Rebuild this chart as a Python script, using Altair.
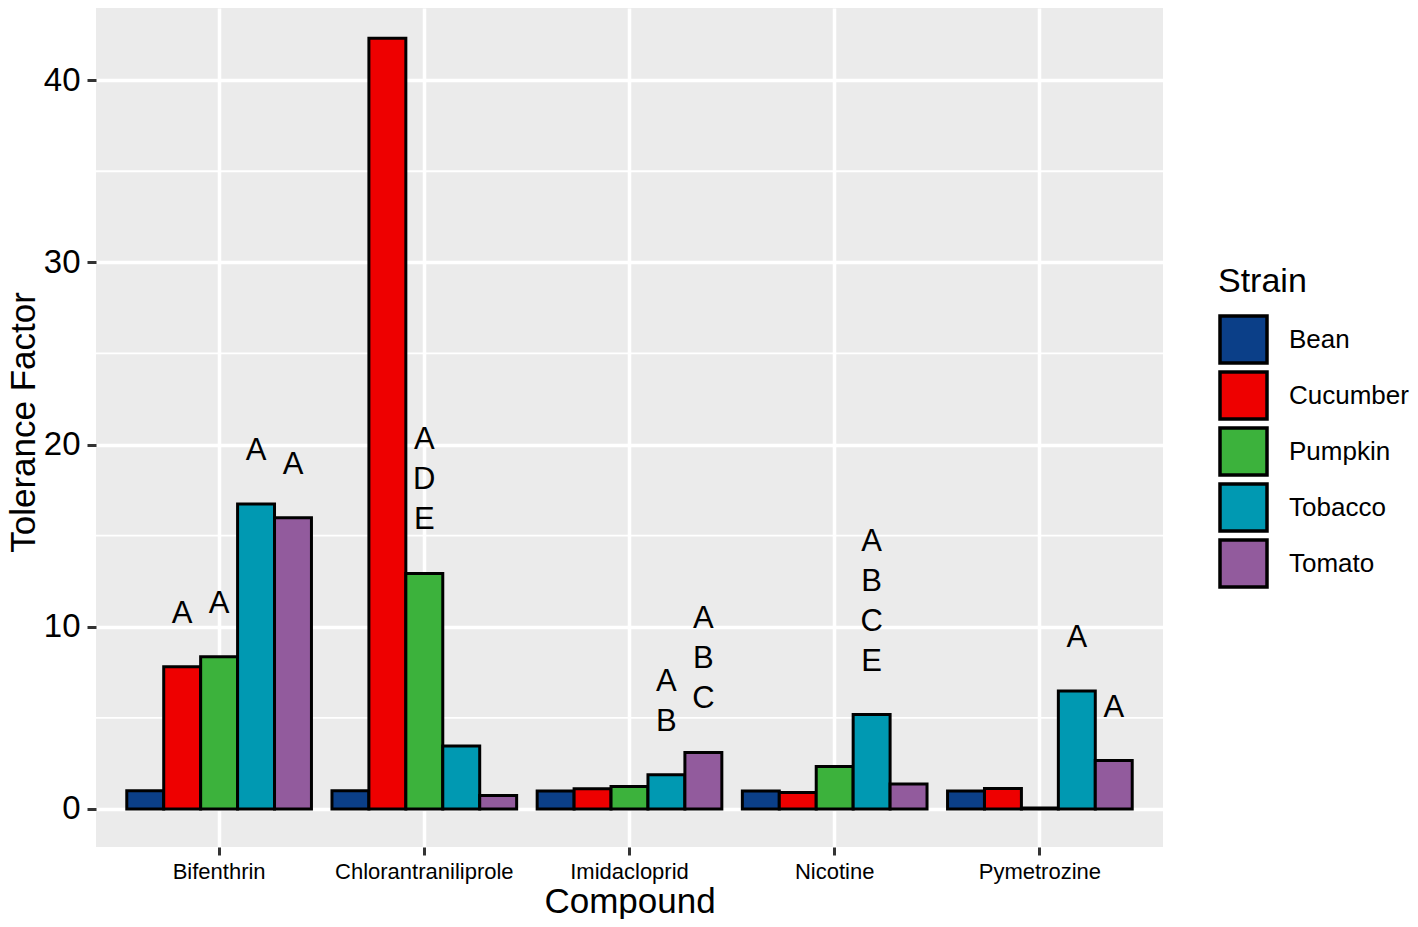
import altair as alt
import pandas as pd

compounds = ["Bifenthrin", "Chlorantraniliprole", "Imidacloprid", "Nicotine", "Pymetrozine"]
strains = ["Bean", "Cucumber", "Pumpkin", "Tobacco", "Tomato"]
colors = ["#0B3F88", "#EE0000", "#3CB23C", "#0099B2", "#925B9D"]

# Tolerance factor per compound, one list per strain (order of compounds)
bean = [1.0, 1.0, 0.98, 0.98, 0.98]
cucumber = [7.8, 42.3, 1.11, 0.9, 1.12]
pumpkin = [8.35, 12.93, 1.23, 2.33, 0.05]
tobacco = [16.74, 3.45, 1.88, 5.18, 6.48]
tomato = [15.98, 0.74, 3.1, 1.37, 2.66]

# significance letters per compound, one list per strain
bean_letters = ["", "", "", "", ""]
cucumber_letters = ["A", "", "", "", ""]
pumpkin_letters = ["A", "A\nD\nE", "", "", ""]
tobacco_letters = ["A", "", "A\nB", "A\nB\nC\nE", "A"]
tomato_letters = ["A", "", "A\nB\nC", "", "A"]

values = [bean, cucumber, pumpkin, tobacco, tomato]
letters = [bean_letters, cucumber_letters, pumpkin_letters, tobacco_letters, tomato_letters]

rows = []
for s, vals, lets in zip(strains, values, letters):
    for c, v, l in zip(compounds, vals, lets):
        rows.append({"Compound": c, "Strain": s, "value": v, "label": l,
                     "nlines": len(l.split("\n")) if l else 0})
df = pd.DataFrame(rows)

minor_breaks = pd.DataFrame({"y": [5, 15, 25, 35]})

FONT = "Liberation Sans"

y_scale = alt.Scale(domain=[-2.087, 43.96], nice=False, zero=False)
x_scale = alt.Scale(domain=compounds, paddingInner=0.1, paddingOuter=0.15)
xo_scale = alt.Scale(domain=strains, paddingInner=0, paddingOuter=0)

x_enc = alt.X(
    "Compound:N",
    scale=x_scale,
    title="Compound",
    axis=alt.Axis(
        bandPosition=0.5,
        grid=True,
        gridColor="white",
        gridWidth=3.5,
        domain=False,
        tickColor="#333333",
        tickWidth=3,
        tickSize=8,
        labelFontSize=22,
        labelColor="black",
        labelPadding=6,
        labelAngle=0,
        labelFont=FONT,
        titleFont=FONT,
        titleFontSize=35,
        titleFontWeight="normal",
        titleColor="black",
        titleBaseline="alphabetic",
        titleY=65,
    ),
)
y_axis = alt.Axis(
    values=[0, 10, 20, 30, 40],
    grid=True,
    gridColor="white",
    gridWidth=3.5,
    domain=False,
    tickColor="#333333",
    tickWidth=3,
    tickSize=9,
    labelFontSize=33,
    labelColor="black",
    labelPadding=7,
    labelFont=FONT,
    titleFont=FONT,
    titleFontSize=35,
    titleFontWeight="normal",
    titleColor="black",
    titleAngle=270,
    titleAlign="center",
    titleBaseline="alphabetic",
    titleX=-62,
    titleY=414,
)

minor = alt.Chart(minor_breaks).mark_rule(color="white", strokeWidth=1.8).encode(
    y=alt.Y("y:Q", scale=y_scale, axis=y_axis, title="Tolerance Factor")
)

bars = alt.Chart(df).mark_bar(stroke="black", strokeWidth=3, opacity=1).encode(
    x=x_enc,
    xOffset=alt.XOffset("Strain:N", scale=xo_scale, sort=strains),
    y=alt.Y("value:Q", scale=y_scale, axis=y_axis, title="Tolerance Factor"),
    fill=alt.Fill(
        "Strain:N",
        scale=alt.Scale(domain=strains, range=colors),
        sort=strains,
        legend=alt.Legend(
            title="Strain",
            orient="none",
            legendX=1122,
            legendY=257,
            padding=0,
            symbolType="square",
            symbolSize=2209,
            symbolStrokeColor="black",
            symbolStrokeWidth=3.5,
            symbolOpacity=1,
            rowPadding=-16,
            labelOffset=20,
            labelFontSize=26,
            labelFont=FONT,
            labelColor="black",
            titleFont=FONT,
            titleFontSize=34,
            titleFontWeight="normal",
            titleColor="black",
            titlePadding=15,
        ),
    ),
)

text_layers = []
for n in sorted(df.loc[df["nlines"] > 0, "nlines"].unique()):
    text_layers.append(
        alt.Chart(df).transform_filter(f"datum.nlines == {int(n)}").mark_text(
            baseline="bottom", align="center", dy=-37 - 40 * (int(n) - 1),
            fontSize=31, lineHeight=40, lineBreak="\n", font=FONT, color="black"
        ).encode(
            x=alt.X("Compound:N", scale=x_scale),
            xOffset=alt.XOffset("Strain:N", scale=xo_scale, sort=strains),
            y=alt.Y("value:Q", scale=y_scale),
            text="label:N",
        )
    )

chart = alt.layer(minor, bars, *text_layers).properties(
    width=1067,
    height=839,
    background="white",
    autosize=alt.AutoSizeParams(type="none"),
    padding={"left": 88, "top": 0, "right": 247, "bottom": 72},
).configure_view(
    fill="#EBEBEB", strokeWidth=0
)

chart.save("out.html", embed_options={"renderer": "svg", "actions": False})
